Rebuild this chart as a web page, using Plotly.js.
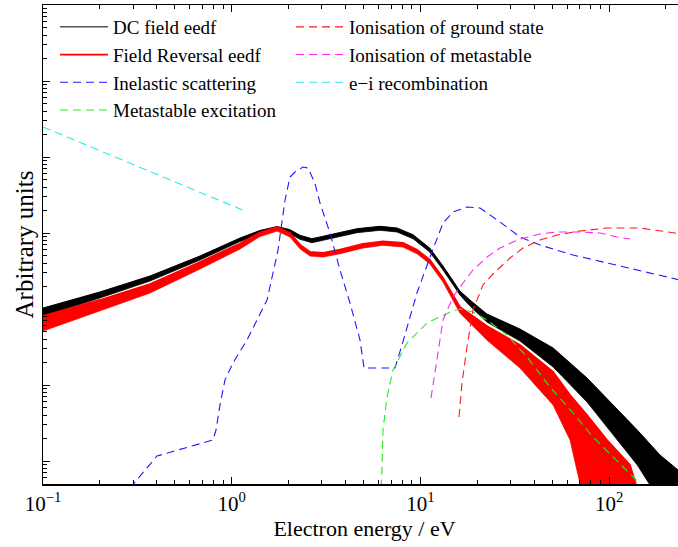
<!DOCTYPE html>
<html>
<head>
<meta charset="utf-8">
<script src="https://cdn.plot.ly/plotly-3.0.1.min.js"></script>
<style>
  html, body { margin: 0; padding: 0; overflow: hidden; background: #fff; }
  #chart { width: 686px; height: 547px; }
</style>
</head>
<body>
<div id="chart"></div>
<script>
// ---- Data (arbitrary units) ----
// DC field eedf: noisy band, upper and lower envelope
const dcEnergy = [0.1, 0.2, 0.369, 0.679, 1.107, 1.41, 1.74, 2.037, 2.301, 2.66, 3.047, 3.614, 4.613, 6.11, 7.516, 9.14, 11.2, 13.18, 16.2, 18.3, 22.5, 33.7, 50.5, 76.4, 105, 141, 186, 232, 265];
const dcUpper  = [0.1030, 0.1674, 0.2718, 0.4982, 0.8594, 1.0787, 1.2178, 1.105, 0.9328, 0.8414, 0.9048, 1.0, 1.139, 1.225, 1.164, 0.950, 0.6348, 0.368, 0.1725, 0.1314, 0.0859, 0.0545, 0.0307, 0.01236, 0.00546, 0.002557, 0.0012, 0.000761, 0.00056];
const dcLower  = [0.0809, 0.1396, 0.2336, 0.4413, 0.7729, 0.9702, 1.0952, 0.979, 0.8263, 0.7455, 0.8015, 0.8858, 1.009, 1.085, 1.031, 0.8414, 0.5623, 0.326, 0.1528, 0.1095, 0.0674, 0.0379, 0.01725, 0.00597, 0.0022, 0.000886, 0.0003, 0.0003, 0.0003];

// Field Reversal eedf: noisy band, upper and lower envelope
const frEnergy = [0.1, 0.2, 0.369, 0.679, 1.107, 1.41, 1.74, 2.037, 2.301, 2.600, 3.047, 3.749, 4.964, 6.34, 8.085, 9.59, 11.2, 13.18, 16.2, 22.5, 33.7, 50.5, 62.1, 76.4, 97.5, 129, 154.9];
const frUpper  = [0.0809, 0.1314, 0.2133, 0.4153, 0.7276, 1.015, 1.199, 1.0, 0.7016, 0.5623, 0.5456, 0.6031, 0.7166, 0.7775, 0.7386, 0.6031, 0.4454, 0.2557, 0.1062, 0.0597, 0.0336, 0.01483, 0.00739, 0.00403, 0.00189, 0.000886, 0.0002];
const frLower  = [0.0513, 0.0941, 0.1624, 0.3360, 0.6159, 0.8993, 1.0624, 0.8858, 0.6216, 0.4982, 0.4833, 0.5341, 0.6348, 0.6890, 0.6544, 0.5341, 0.3946, 0.2266, 0.0886, 0.0391, 0.01674, 0.00546, 0.00189, 0.0002, 0.0002, 0.0002, 0.0002];

// Inelastic scattering
const inelEnergy = [0.2891, 0.4018, 0.796, 0.8257, 0.867, 0.9215, 1.016, 1.205, 1.362, 1.539, 1.760, 1.917, 2.037, 2.166, 2.387, 2.537, 2.76, 2.937, 3.318, 3.749, 4.236, 4.786, 5.025, 7.335, 7.99, 9.59, 11.25, 13.18, 14.89, 17.66, 20.69, 26.42, 33.71, 43.04, 64.4, 97.5, 145.8, 231.8, 300];
const inelValue  = [0.000441, 0.001163, 0.00189, 0.002557, 0.00546, 0.01163, 0.01948, 0.0391, 0.0717, 0.1314, 0.5976, 2.718, 5.456, 6.347, 7.386, 7.167, 4.549, 2.481, 1.0, 0.326, 0.12, 0.0391, 0.01674, 0.01674, 0.0336, 0.1624, 0.4833, 1.354, 1.889, 2.198, 2.133, 1.395, 0.8858, 0.6952, 0.5135, 0.403, 0.326, 0.2481, 0.21];

// Metastable excitation
const metaExcEnergy = [6.15, 6.258, 6.335, 6.653, 7.158, 8.492, 10.84, 14.35, 16.21, 19.0, 22.54, 28.76, 36.72, 48.63, 64.4, 82.16, 104.9, 133.9, 145.8, 160];
const metaExcValue  = [0.0003, 0.000761, 0.002557, 0.00695, 0.01575, 0.0357, 0.0654, 0.0913, 0.1, 0.0913, 0.0717, 0.0455, 0.02336, 0.0094, 0.00428, 0.00207, 0.00113, 0.000616, 0.000514, 0.0004];

// Ionisation of ground state
const ionGroundEnergy = [16.02, 16.61, 17.66, 19.0, 21.46, 24.25, 29.84, 34.97, 43.04, 52.95, 70.11, 97.5, 145.8, 231.8, 300];
const ionGroundValue  = [0.00379, 0.01062, 0.0316, 0.097, 0.2069, 0.2888, 0.469, 0.6348, 0.809, 0.9412, 1.0624, 1.1636, 1.1636, 0.97, 0.9];

// Ionisation of metastable
const ionMetaEnergy = [11.38, 12.25, 13.18, 14.89, 16.21, 19.0, 22.54, 26.42, 33.71, 43.04, 52.95, 70.11, 89.49, 110.1, 129.2];
const ionMetaValue  = [0.00675, 0.02336, 0.0717, 0.1438, 0.1948, 0.326, 0.4833, 0.6348, 0.8337, 0.9702, 1.031, 1.031, 1.0, 0.8858, 0.8337];

// e-i recombination
const recombEnergy = [0.1, 0.343, 1.176];
const recombValue  = [24.8, 6.95, 1.948];

// Axis tick labels
const xTickVals = [0.1, 1, 10, 100];
const xTickText = ['10<sup>\u22121</sup>', '10<sup>0</sup>', '10<sup>1</sup>', '10<sup>2</sup>'];

// ---- Build traces ----
const serif = 'Liberation Serif, Times New Roman, serif';
const dashStyle = '8px,5px';

function band(name, xs, up, lo, color, legend, lw) {
  return [
    { x: xs, y: up, type: 'scatter', mode: 'lines', name: name, legend: legend,
      legendgroup: name, line: { color: color, width: lw }, hoverinfo: 'skip' },
    { x: xs, y: lo, type: 'scatter', mode: 'lines', name: name, legendgroup: name,
      showlegend: false, fill: 'tonexty', fillcolor: color,
      line: { color: color, width: 0.8 }, hoverinfo: 'skip' }
  ];
}
function dashed(name, xs, ys, color, legend) {
  return { x: xs, y: ys, type: 'scatter', mode: 'lines', name: name, legend: legend,
    line: { color: color, width: 1.1, dash: dashStyle }, hoverinfo: 'skip' };
}

const traces = []
  .concat(band('DC field eedf', dcEnergy, dcUpper, dcLower, '#000000', 'legend', 1))
  .concat(band('Field Reversal eedf', frEnergy, frUpper, frLower, '#ff0000', 'legend', 1.8))
  .concat([
    dashed('Inelastic scattering', inelEnergy, inelValue, '#1a1aff', 'legend'),
    dashed('Metastable excitation', metaExcEnergy, metaExcValue, '#22ee22', 'legend'),
    dashed('Ionisation of ground state', ionGroundEnergy, ionGroundValue, '#ff1a1a', 'legend2'),
    dashed('Ionisation of metastable', ionMetaEnergy, ionMetaValue, '#ff22ff', 'legend2'),
    dashed('e\u2212i recombination', recombEnergy, recombValue, '#22eeee', 'legend2')
  ]);

const W = 686;
const plotW = W - 43;
const plotH = 547 - 5 - 63;

const minorX = [0.2,0.3,0.4,0.5,0.6,0.7,0.8,0.9,2,3,4,5,6,7,8,9,20,30,40,50,60,70,80,90,200,300];
const minorY = [];
for (let d = -4; d <= 2; d++) for (let k = 2; k <= 9; k++) minorY.push(k * Math.pow(10, d));

const layout = {
  width: W, height: 547,
  margin: { l: 43, r: 0, t: 5, b: 63 },
  paper_bgcolor: '#ffffff', plot_bgcolor: '#ffffff',
  font: { family: serif, color: '#000000', size: 19 },
  showlegend: true,
  xaxis: {
    type: 'log', range: [-1, -1 + plotW / 188.7],
    showgrid: false, zeroline: false,
    showline: true, linecolor: '#000', linewidth: 1.5, mirror: 'ticks',
    ticks: 'inside', ticklen: 7, tickwidth: 1, tickcolor: '#000',
    tickmode: 'array', tickvals: xTickVals, ticktext: xTickText,
    tickfont: { family: serif, size: 21, color: '#000' },
    minor: { tickmode: 'array', tickvals: minorX, ticks: 'inside', ticklen: 4, tickwidth: 1, tickcolor: '#000', showgrid: false },
    title: { text: 'Electron energy / eV', font: { family: serif, size: 22, color: '#000' }, standoff: 4 }
  },
  yaxis: {
    type: 'log', range: [3 - plotH / 76, 3],
    showgrid: false, zeroline: false,
    showline: true, linecolor: '#000', linewidth: 1.5, mirror: 'ticks',
    ticks: 'inside', ticklen: 7, tickwidth: 1, tickcolor: '#000',
    dtick: 1, showticklabels: false,
    minor: { tickmode: 'array', tickvals: minorY, ticks: 'inside', ticklen: 4, tickwidth: 1, tickcolor: '#000', showgrid: false },
    title: { text: 'Arbitrary units', font: { family: serif, size: 25, color: '#000' }, standoff: 1 }
  },
  legend: {
    x: (55 - 43) / plotW, y: 1 - (8 - 5) / plotH, xanchor: 'left', yanchor: 'top',
    bgcolor: 'rgba(0,0,0,0)', borderwidth: 0,
    font: { family: serif, size: 19, color: '#000' }, itemwidth: 48, tracegroupgap: 0
  },
  legend2: {
    x: (291 - 43) / plotW, y: 1 - (8 - 5) / plotH, xanchor: 'left', yanchor: 'top',
    bgcolor: 'rgba(0,0,0,0)', borderwidth: 0,
    font: { family: serif, size: 19, color: '#000' }, itemwidth: 48, tracegroupgap: 0
  }
};

Plotly.newPlot('chart', traces, layout, { staticPlot: true, displayModeBar: false });
</script>
</body>
</html>
